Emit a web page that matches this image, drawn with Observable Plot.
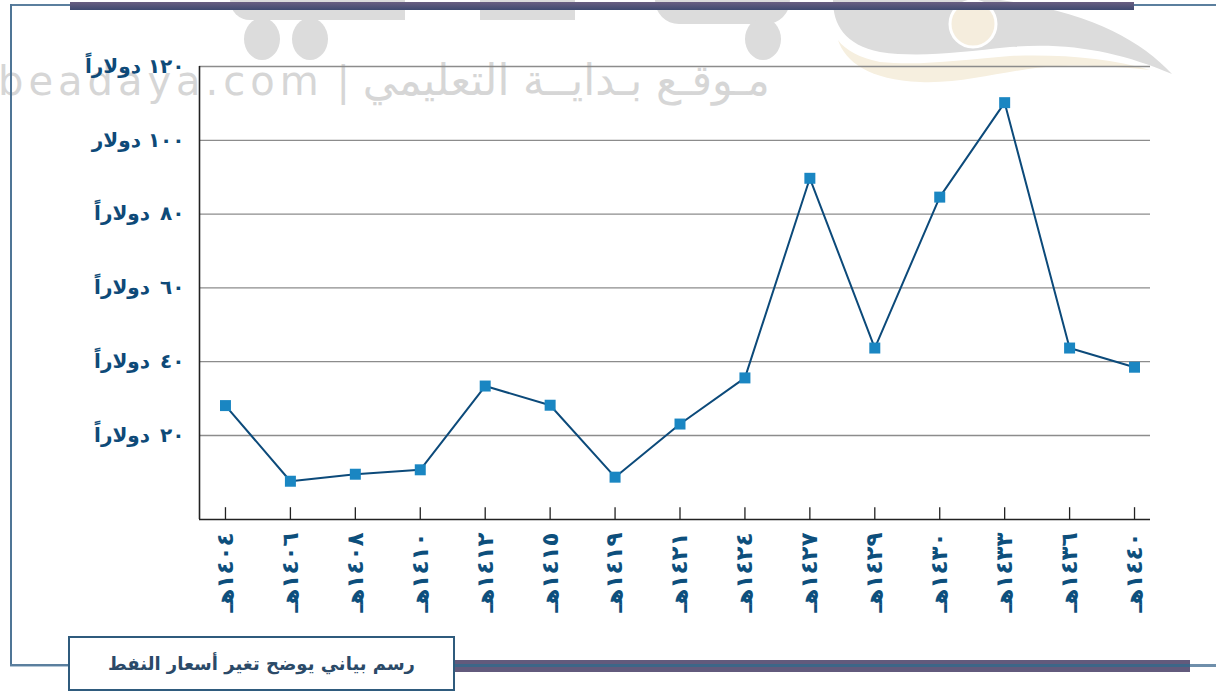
<!DOCTYPE html>
<html lang="ar">
<head>
<meta charset="utf-8">
<script src="https://cdn.jsdelivr.net/npm/d3@7"></script>
<script src="https://cdn.jsdelivr.net/npm/@observablehq/plot@0.6"></script>
<style>
  html, body { margin: 0; padding: 0; background: #fff; }
  #page { position: relative; width: 1216px; height: 691px; overflow: hidden; background: #fff; }
  .deco { position: absolute; z-index: 2; }
  .wm { position: absolute; background: #dcdcdc; }
  #swoosh { position: absolute; left: 0; top: 0; }
  #chart { position: absolute; left: 0; top: 0; z-index: 2; }
  #chart svg { overflow: visible; }
  #watermark { position: absolute; left: -2px; top: 55px; font-family: "DejaVu Sans", sans-serif; font-size: 40px; color: #d6d6d6; white-space: nowrap; z-index: 1; }
  #watermark .lat { letter-spacing: 5px; }
  #watermark .ar { font-size: 43px; }
  #caption { position: absolute; left: 68px; top: 636px; width: 383px; height: 51px; border: 2px solid #2f5b7d; background: #fff; z-index: 3;
    display: flex; align-items: center; justify-content: center; font-family: "DejaVu Sans", sans-serif; font-weight: bold; font-size: 18px; color: #2b4a68; direction: rtl; }
</style>
</head>
<body>
<div id="page">
  <!-- watermark shapes -->
  <div class="wm" style="left:230px;top:0;width:175px;height:20px;border-radius:0 0 0 20px;"></div>
  <div class="wm" style="left:480px;top:0;width:95px;height:20px;"></div>
  <div class="wm" style="left:655px;top:0;width:135px;height:24px;border-radius:0 0 30px 30px;"></div>
  <div class="wm" style="left:244px;top:18px;width:36px;height:42px;border-radius:50%;"></div>
  <div class="wm" style="left:292px;top:18px;width:36px;height:42px;border-radius:50%;"></div>
  <div class="wm" style="left:745px;top:18px;width:36px;height:42px;border-radius:50%;"></div>
  <svg id="swoosh" width="1216" height="100">
    <path d="M833,0 C833,25 845,45 880,52 C920,58 960,52 1010,47 C1070,42 1120,52 1172,74 C1140,40 1090,12 1000,0 Z" fill="#dcdcdc"/>
    <path d="M838,40 C845,62 870,80 920,82 C970,84 1010,68 1060,66 C1100,65 1130,68 1150,70 C1110,58 1060,54 1010,56 C960,60 920,66 880,62 C860,58 845,50 838,40 Z" fill="#f6efdf"/>
    <circle cx="973" cy="24" r="23" fill="#f5eddd" stroke="#ffffff" stroke-width="3"/>
  </svg>
  <div id="watermark"><span class="lat">beadaya.com</span> | <span class="ar" dir="rtl">مـوقـع بـدايــة التعليمي</span></div>

  <!-- frame decorations -->
  <div class="deco" style="left:10px;top:4px;width:1206px;height:2px;background:#5b7f9e;"></div>
  <div class="deco" style="left:70px;top:2px;width:1064px;height:8px;background:linear-gradient(#6a5f82,#3f4a70);"></div>
  <div class="deco" style="left:10px;top:4px;width:2px;height:662px;background:#4f7596;"></div>
  <div class="deco" style="left:10px;top:664px;width:60px;height:2px;background:#5b7f9e;border-bottom:1px solid #b3c6d6;"></div>
  <div class="deco" style="left:455px;top:660px;width:735px;height:12px;background:#625a7c;"></div>
  <div class="deco" style="left:455px;top:664px;width:735px;height:3px;background:#3c6688;"></div>
  <div class="deco" style="left:1190px;top:664px;width:26px;height:3px;background:#6f8fab;"></div>

  <div id="chart"></div>
  <div id="caption">رسم بياني يوضح تغير أسعار النفط</div>
</div>
<script>
// Years (Hijri) shown on the x axis
const years = ["١٤٠٤","١٤٠٦","١٤٠٨","١٤١٠","١٤١٢","١٤١٥","١٤١٩","١٤٢١","١٤٢٤","١٤٢٧","١٤٢٩","١٤٣٠","١٤٣٣","١٤٣٦","١٤٤٠"];
// Oil price (dollars) per year
const prices = [28.1, 7.6, 9.5, 10.7, 33.4, 28.2, 8.7, 23.1, 35.6, 89.7, 43.7, 84.6, 110.2, 43.7, 38.5];
// Y axis ticks and their labels
const yTicks = [20, 40, 60, 80, 100, 120];
const yTickLabels = ["٢٠\u2002دولاراً", "٤٠\u2002دولاراً", "٦٠\u2002دولاراً", "٨٠\u2002دولاراً", "١٠٠ دولار", "١٢٠ دولاراً"];
const yearSuffix = "هـ";

const data = years.map((y, i) => ({i, year: y, price: prices[i]}));
const idx = years.map((_, i) => i);
const xMin = -0.4, xMax = 14.246;
const yMin = -2.77, yMax = 120;

const chart = Plot.plot({
  width: 1216,
  height: 691,
  marginLeft: 199,
  marginRight: 66,
  marginTop: 66,
  marginBottom: 172,
  style: {background: "transparent", fontFamily: "DejaVu Sans, sans-serif", overflow: "visible"},
  x: {type: "linear", domain: [xMin, xMax], label: null},
  y: {domain: [yMin, yMax], label: null},
  marks: [
    Plot.gridY(yTicks, {stroke: "#8c8c8c", strokeOpacity: 1, strokeWidth: 1.3}),
    Plot.ruleY([yMin], {stroke: "#222", strokeWidth: 1.6}),
    Plot.ruleX([xMin], {y1: yMin, y2: yMax, stroke: "#222", strokeWidth: 1.6}),
    Plot.ruleX(idx, {x: d => d, y1: yMin, y2: yMin + 3.2, stroke: "#222", strokeWidth: 1.3}),
    Plot.axisY(yTicks, {
      tickSize: 0, tickPadding: 15, fontSize: 20, fontWeight: "bold", fill: "#0e4a78",
      tickFormat: d => yTickLabels[yTicks.indexOf(d)]
    }),
    Plot.axisX(idx, {
      tickSize: 0, tickPadding: 13, tickRotate: -90, fontSize: 23, fontWeight: "bold", fill: "#0d4f7c",
      tickFormat: i => years[i] + yearSuffix
    }),
    Plot.line(data, {x: "i", y: "price", stroke: "#0c4a7a", strokeWidth: 2}),
    Plot.dot(data, {x: "i", y: "price", symbol: "square", r: 6.2, fill: "#1a86c2", stroke: "none"})
  ]
});
document.getElementById("chart").appendChild(chart);
</script>
</body>
</html>
